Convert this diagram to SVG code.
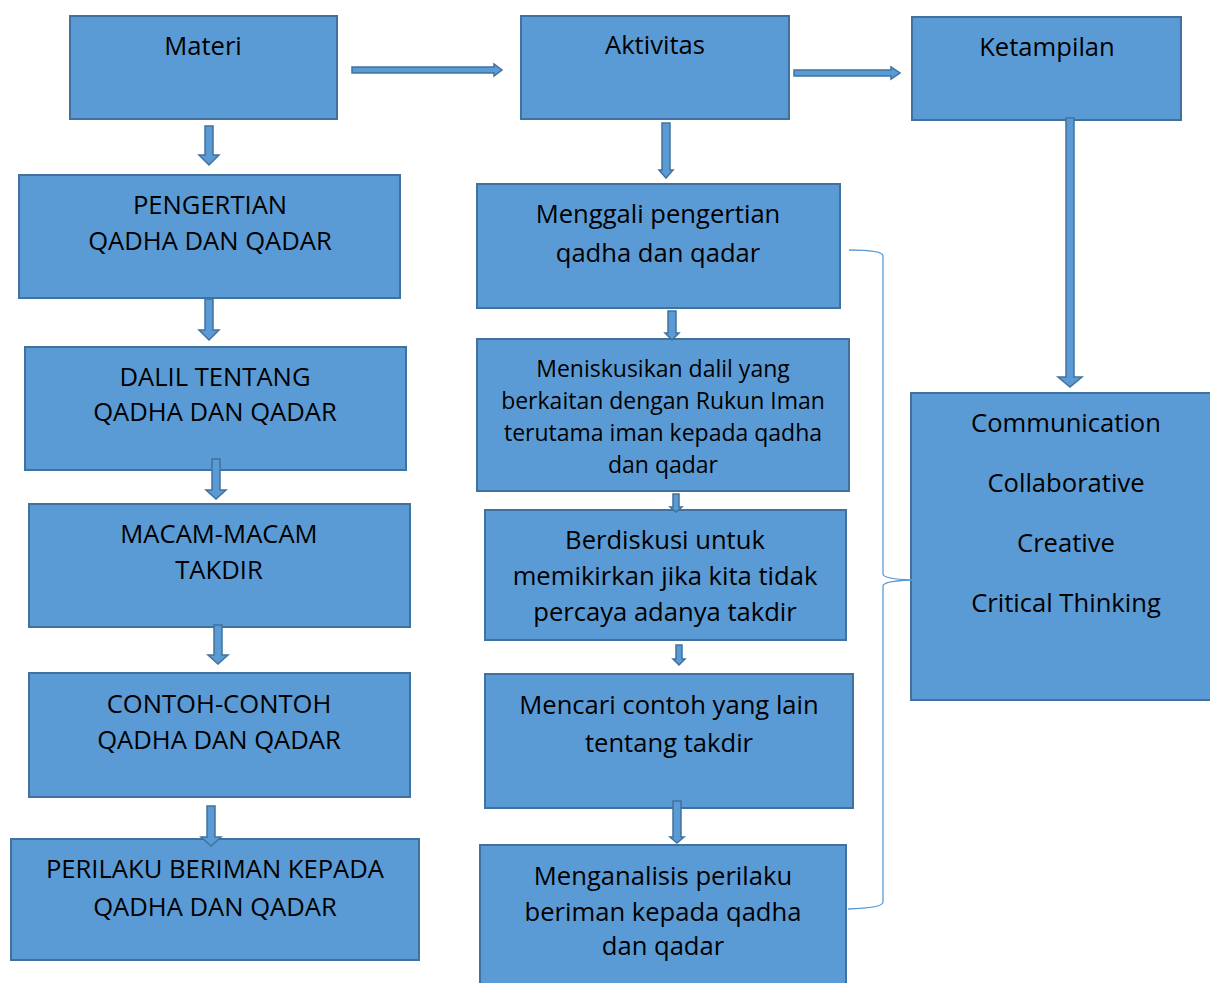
<svg xmlns="http://www.w3.org/2000/svg" width="1210" height="983" viewBox="0 0 1210 983">
<style>
.box{fill:#5b9bd5;stroke:#41719c;stroke-width:2}
.arr{fill:#5b9bd5;stroke:#41719c;stroke-width:1.5;stroke-linejoin:miter}
text{font-family:"Open Sans","Liberation Sans",sans-serif;font-size:25.6px;fill:#000;text-anchor:middle}
.sm{font-size:23px}
.brace{fill:none;stroke:#5b9bd5;stroke-width:1.3}
</style>
<rect width="1210" height="983" fill="#fff"/>
<g id="materi"><rect class="box" x="70" y="16" width="267" height="103"/><text x="203" y="55">Materi</text></g>
<g id="pengertian"><rect class="box" x="19" y="175" width="381" height="123"/><text x="210" y="214">PENGERTIAN</text><text x="210" y="250">QADHA DAN QADAR</text></g>
<g id="dalil"><rect class="box" x="25" y="347" width="381" height="123"/><text x="215" y="386">DALIL TENTANG</text><text x="215" y="421">QADHA DAN QADAR</text></g>
<g id="macam"><rect class="box" x="29" y="504" width="381" height="123"/><text x="219" y="543">MACAM-MACAM</text><text x="219" y="579">TAKDIR</text></g>
<g id="contoh"><rect class="box" x="29" y="673" width="381" height="124"/><text x="219" y="713">CONTOH-CONTOH</text><text x="219" y="749">QADHA DAN QADAR</text></g>
<g id="perilaku"><rect class="box" x="11" y="839" width="408" height="121"/><text x="215" y="878">PERILAKU BERIMAN KEPADA</text><text x="215" y="916">QADHA DAN QADAR</text></g>
<g id="aktivitas"><rect class="box" x="521" y="16" width="268" height="103"/><text x="655" y="54">Aktivitas</text></g>
<g id="menggali"><rect class="box" x="477" y="184" width="363" height="124"/><text x="658" y="223">Menggali pengertian</text><text x="658" y="262">qadha dan qadar</text></g>
<g id="meniskusikan"><rect class="box" x="477" y="339" width="372" height="152"/><text class="sm" x="663" y="377">Meniskusikan dalil yang</text><text class="sm" x="663" y="409">berkaitan dengan Rukun Iman</text><text class="sm" x="663" y="441">terutama iman kepada qadha</text><text class="sm" x="663" y="473">dan qadar</text></g>
<g id="berdiskusi"><rect class="box" x="485" y="510" width="361" height="130"/><text x="665" y="549">Berdiskusi untuk</text><text x="665" y="585">memikirkan jika kita tidak</text><text x="665" y="621">percaya adanya takdir</text></g>
<g id="mencari"><rect class="box" x="485" y="674" width="368" height="134"/><text x="669" y="714">Mencari contoh yang lain</text><text x="669" y="752">tentang takdir</text></g>
<g id="menganalisis"><rect class="box" x="480" y="845" width="366" height="145"/><text x="663" y="885">Menganalisis perilaku</text><text x="663" y="921">beriman kepada qadha</text><text x="663" y="955">dan qadar</text></g>
<g id="ketampilan"><rect class="box" x="912" y="17" width="269" height="103"/><text x="1047" y="56">Ketampilan</text></g>
<g id="skills"><rect class="box" x="911" y="393" width="305" height="307"/><text x="1066" y="432">Communication</text><text x="1066" y="492">Collaborative</text><text x="1066" y="552">Creative</text><text x="1066" y="612">Critical Thinking</text></g>
<g id="connectors">
<polygon class="arr" points="352,67 494,67 494,64 502,70 494,76 494,73 352,73"/>
<polygon class="arr" points="794,70 891,70 891,67 900,73 891,79 891,76 794,76"/>
<polygon class="arr" points="205,126 213,126 213,155 219,155 209,165 199,155 205,155"/>
<polygon class="arr" points="205,299 213,299 213,330 219,330 209,340 199,330 205,330"/>
<polygon class="arr" points="212,459 220,459 220,490 226,490 216,499 206,490 212,490"/>
<polygon class="arr" points="214,625 222,625 222,655 228,655 218,664 208,655 214,655"/>
<polygon class="arr" points="207,806 215,806 215,837 221,837 211,846 201,837 207,837"/>
<polygon class="arr" points="662,123 670,123 670,170 673,170 666,178 659,170 662,170"/>
<polygon class="arr" points="668,311 676,311 676,333 679,333 672,340 665,333 668,333"/>
<polygon class="arr" points="673,494 679,494 679,507 682,507 676,512 670,507 673,507"/>
<polygon class="arr" points="676,645 682,645 682,659 685,659 679,665 673,659 676,659"/>
<polygon class="arr" points="673,801 681,801 681,837 684,837 677,843 670,837 673,837"/>
<polygon class="arr" points="1066,118 1074,118 1074,377 1082,377 1070,387 1058,377 1066,377"/>
<path class="brace" d="M849,250 Q883,250 883,256 L883,574 Q883,579 912,580 Q883,581 883,586 L883,902 Q883,908 848,909"/>
</g>
</svg>
